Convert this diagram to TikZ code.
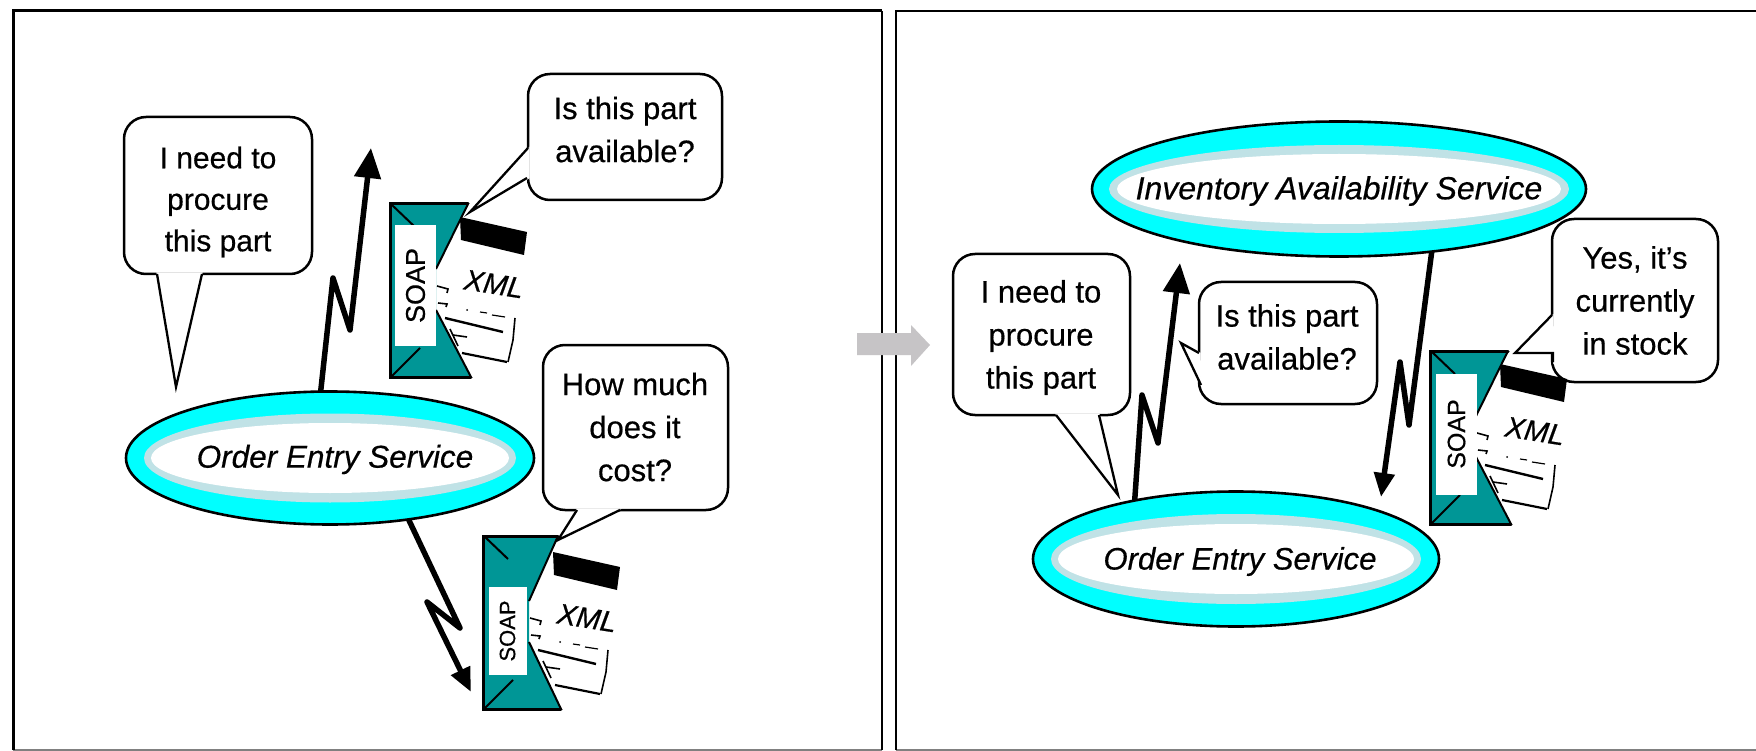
\documentclass[tikz,border=0pt]{standalone}
\usepackage{fontspec}
\setmainfont{Liberation Sans}[FakeBold=0.5]
\usetikzlibrary{arrows.meta,shapes.geometric}
\definecolor{teal1}{HTML}{009696}
\definecolor{band}{HTML}{C0E2E6}
\definecolor{gry}{HTML}{C6C4C6}
\definecolor{aqua}{RGB}{0,255,255}
\definecolor{edgegry}{HTML}{808080}
\tikzset{
  ellA/.style={ellipse,draw=black,line width=2.6pt,fill=aqua,inner sep=0pt,outer sep=0pt},
  ellB/.style={ellipse,fill=band,inner sep=0pt,outer sep=0pt},
  ellC/.style={ellipse,fill=white,inner sep=0pt,outer sep=0pt},
  bubble/.style={rectangle,rounded corners=22pt,draw=black,line width=2.5pt,fill=white,inner sep=0pt,outer sep=0pt},
  bubtext/.style={inner sep=0pt,align=center,font=\fontsize{31}{43}\selectfont},
  tailfill/.style={fill=white,draw=white,line width=1pt},
  tailline/.style={draw=black,line width=2.3pt,line join=miter},
  bolt/.style={draw=black,line width=5.5pt,line join=round},
  envline/.style={draw=black,line width=3pt,line cap=round},
  foldline/.style={draw=black,line width=2pt},
  paperline/.style={draw=black,line width=1.6pt},
}
% envelope: #1 shift, #2 label centre, #3 label w, #4 label h, #5 label font, #6 xml centre, #7 prefix, #8 y-offset of paper, #9 top-right x
\newcommand{\envelope}[9]{%
  \begin{scope}[shift={(#1)}]
    \fill[black] (70,13+#8) -- (137,28+#8) -- (134,51+#8) -- (71,36+#8) -- cycle;
    \draw[paperline] (47,82) -- (58,85) -- (57,89);
    \draw[paperline] (48,99) -- (57,100) -- (56,103);
    \draw[draw=black,line width=2.4pt] (55,114) -- (113,128);
    \draw[paperline] (63,131) -- (77,133);
    \draw[paperline] (60,125) -- (68,142);
    \draw[draw=black,line width=2.2pt] (72,149) -- (117,158);
    \draw[paperline] (125,114) -- (123,136) -- (118,158);
    \fill[black] (77,106) circle (1pt);
    \draw[draw=black,line width=1.2pt] (90,108) -- (97,109) (102,111) -- (115,113);
    \fill[teal1] (0,0) -- (#9,0) -- (46,65) -- (46,106) -- (#9+3,173) -- (0,173) -- cycle;
    \draw[foldline] (2,1) -- (25,23) (2,172) -- (30,144);
    \draw[foldline] (#9,0) -- (46,65) (46,106) -- (#9+3,173);
    \draw[envline] (#9,0) -- (0,0) -- (0,173) -- (#9+3,173);
    \node[fill=white,inner sep=0pt,outer sep=0pt,minimum width=#3,minimum height=#4,rotate=90,font=#5] (#7label) at (#2) {SOAP};
  \end{scope}
  \node[font=\fontsize{29}{32}\selectfont\itshape,rotate=-9,inner sep=0pt] (#7xml) at (#6) {XML};
}
\begin{document}
\begin{tikzpicture}[x=1pt,y=-1pt]
\useasboundingbox (0,0) rectangle (1756,751);
\fill[white] (0,0) rectangle (1756,751);
% panels
\draw[edgegry,line width=1.5pt] (13,750) -- (882,750) (896,750) -- (1756,750);
\draw[black,line width=3pt] (13,750) -- (13,11) -- (882,11);
\draw[black,line width=2pt] (882,11) -- (882,750);
\draw[black,line width=2pt] (896,750) -- (896,11.5) -- (1756,11.5);

% ellipses
\node[ellA,minimum width=408pt,minimum height=133pt] (ordL) at (330,458) {};
\node[ellB,minimum width=372pt,minimum height=89pt] (ordLb) at (330,458) {};
\node[ellC,minimum width=358pt,minimum height=70pt] (ordLc) at (330,458) {};
\node[font=\fontsize{31.5}{36}\selectfont\itshape,inner sep=0pt] (ordLt) at (335,459.5) {Order Entry Service};

\node[ellA,minimum width=406pt,minimum height=135pt] (ordR) at (1236,559) {};
\node[ellB,minimum width=370pt,minimum height=90pt] (ordRb) at (1236,559) {};
\node[ellC,minimum width=356pt,minimum height=70pt] (ordRc) at (1236,559) {};
\node[font=\fontsize{31.1}{36}\selectfont\itshape,inner sep=0pt] (ordRt) at (1240,561.5) {Order Entry Service};

\node[ellA,minimum width=494pt,minimum height=135pt] (inv) at (1339,189) {};
\node[ellB,minimum width=460pt,minimum height=88pt] (invb) at (1339,189) {};
\node[ellC,minimum width=444pt,minimum height=70pt] (invc) at (1339,189) {};
\node[font=\fontsize{32}{36}\selectfont\itshape,inner sep=0pt] (invt) at (1339,191) {Inventory Availability Service};

% bubbles
\node[bubble,minimum width=188pt,minimum height=157pt] (b1) at (218,195.5) {};
\path[tailfill] (157,273) -- (176,387) -- (202,273) -- cycle;
\draw[tailline] (157,274) -- (176,387) -- (202,274);
\node[bubtext,font=\fontsize{30}{41.5}\selectfont] (b1t) at (218,202) {I need to\\procure\\this part};

\node[bubble,minimum width=194pt,minimum height=126pt] (b2) at (625,137) {};
\path[tailfill] (529,148) -- (470,212) -- (529,178) -- cycle;
\draw[tailline] (528,148) -- (470,212) -- (527,178);
\node[bubtext] (b2t) at (625,129.5) {Is this part\\available?};

\node[bubble,minimum width=185pt,minimum height=165pt] (b3) at (635.5,427.5) {};
\path[tailfill] (577,509) -- (558,540) -- (620,509) -- cycle;
\draw[tailline] (577,510) -- (558,540) -- (620,510);
\node[bubtext] (b3t) at (635,427) {How much\\does it\\cost?};

\node[bubble,minimum width=177pt,minimum height=161pt] (b4) at (1041.5,334.5) {};
\path[tailfill] (1056,414) -- (1118,495) -- (1099,414) -- cycle;
\draw[tailline] (1056,415) -- (1118,495) -- (1099,415);
\node[bubtext] (b4t) at (1041,337.5) {I need to\\procure\\this part};

\node[bubble,minimum width=178pt,minimum height=122pt] (b5) at (1288,343) {};
\path[tailfill] (1200,353) -- (1181,343) -- (1201,385) -- cycle;
\draw[tailline] (1199,353) -- (1181,343) -- (1201,385);
\node[bubtext] (b5t) at (1287,337) {Is this part\\available?};

\node[bubble,minimum width=166pt,minimum height=163pt] (b6) at (1635,300.5) {};
\path[tailfill] (1553,315) -- (1515,353) -- (1553,353) -- (1554,364) -- cycle;
\draw[tailline] (1552,315) -- (1515,353) -- (1553,353) -- (1553,362);
\node[bubtext] (b6t) at (1635,300.5) {Yes, it’s\\currently\\in stock};

% envelopes
\envelope{390,204}{25.5,81.5}{121pt}{41pt}{\fontsize{27}{29}\selectfont}{494,284}{e1}{0}{78}
\envelope{483,536}{24.5,95}{88pt}{38pt}{\fontsize{22}{24}\selectfont}{587,618}{e2}{3}{75}
\envelope{1430,351}{26.5,83}{121pt}{41pt}{\fontsize{25}{27}\selectfont}{1535,431}{e3}{0}{78}

% bolts
\draw[bolt,-{Stealth[length=30pt,width=26pt,inset=0pt]}] (ordL.98) -- (333,278) -- (350,330) -- (371,148);
\draw[bolt,-{Stealth[length=24pt,width=20pt,inset=0pt]}] (ordL.-38) -- (460,628) -- (427,602) -- (471,692);
\draw[bolt,-{Stealth[length=30pt,width=26pt,inset=0pt]}] (ordR.150) -- (1142,395) -- (1158,443) -- (1180,263);
\draw[bolt,-{Stealth[length=24pt,width=20pt,inset=0pt]}] (inv.-34) -- (1409,425) -- (1400,362) -- (1381,497);

% transition arrow
\fill[gry] (857,333) -- (911,333) -- (911,325) -- (930,345) -- (911,366) -- (911,355) -- (857,355) -- cycle;
\end{tikzpicture}
\end{document}
